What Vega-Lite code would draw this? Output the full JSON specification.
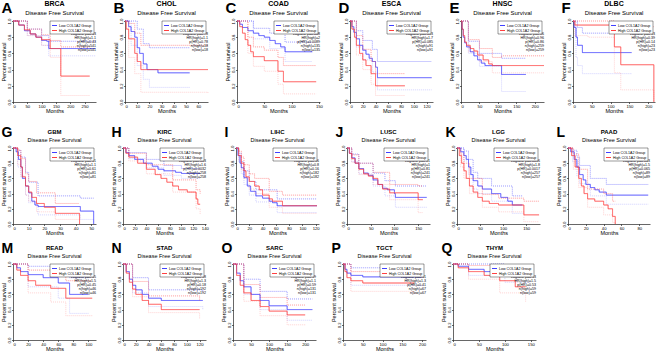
{
"$schema":"https://vega.github.io/schema/vega-lite/v6.json",
"padding":{"left":1,"top":0,"right":0,"bottom":0},
"background":"white",
"config":{
 "view":{"stroke":null},
 "font":"Liberation Sans",
 "title":{"font":"Liberation Sans","fontSize":7,"fontWeight":"bold","color":"black","subtitleFont":"Liberation Sans","subtitleFontSize":6,"subtitleColor":"black","subtitlePadding":0,"offset":2,"anchor":"middle"},
 "axis":{"labelFont":"Liberation Sans","titleFont":"Liberation Sans","labelFontSize":4.2,"titleFontSize":5.5,"titleFontWeight":"normal","tickSize":1.5,"labelPadding":0.5,"titlePadding":0.5,"grid":false,"domainColor":"#000","tickColor":"#000","labelColor":"#000","titleColor":"#000","domainWidth":0.6,"tickWidth":0.6,"labelOverlap":false},
 "axisY":{"labelAngle":270,"labelAlign":"center","labelBaseline":"bottom"},
 "legend":{"padding":1.5,"strokeColor":"black","strokeWidth":0.4,"fillColor":"white","labelFontSize":3.6,"labelFont":"Liberation Sans","labelColor":"black","symbolType":"stroke","symbolSize":25,"symbolStrokeWidth":1,"rowPadding":0,"labelOffset":1.5,"labelLimit":0},
 "line":{"interpolate":"step-after"},
 "text":{"color":"black","font":"Liberation Sans"}
},
"datasets":{
"info":[
{"p":"A","txt":"Logrank p=0.43\nHR(high)=1.1\np(HR)=0.43\nn(high)=541\nn(low)=541"},
{"p":"B","txt":"Logrank p=0.78\nHR(high)=1.1\np(HR)=0.78\nn(high)=18\nn(low)=18"},
{"p":"C","txt":"Logrank p=0.008\nHR(high)=2\np(HR)=0.0089\nn(high)=135\nn(low)=135"},
{"p":"D","txt":"Logrank p=0.083\nHR(high)=1.7\np(HR)=0.085\nn(high)=91\nn(low)=91"},
{"p":"E","txt":"Logrank p=0.86\nHR(high)=0.96\np(HR)=0.86\nn(high)=259\nn(low)=259"},
{"p":"F","txt":"Logrank p=0.13\nHR(high)=0.39\np(HR)=0.14\nn(high)=23\nn(low)=23"},
{"p":"G","txt":"Logrank p=0.61\nHR(high)=1.1\np(HR)=0.61\nn(high)=81\nn(low)=81"},
{"p":"H","txt":"Logrank p=0.003\nHR(high)=1.6\np(HR)=0.0032\nn(high)=258\nn(low)=258"},
{"p":"I","txt":"Logrank p=0.16\nHR(high)=0.8\np(HR)=0.16\nn(high)=182\nn(low)=182"},
{"p":"J","txt":"Logrank p=0.81\nHR(high)=1\np(HR)=0.81\nn(high)=241\nn(low)=241"},
{"p":"K","txt":"Logrank p=0.0016\nHR(high)=1.8\np(HR)=0.0017\nn(high)=257\nn(low)=257"},
{"p":"L","txt":"Logrank p=0.063\nHR(high)=1.5\np(HR)=0.065\nn(high)=89\nn(low)=89"},
{"p":"M","txt":"Logrank p=0.45\nHR(high)=1.5\np(HR)=0.45\nn(high)=46\nn(low)=46"},
{"p":"N","txt":"Logrank p=0.18\nHR(high)=1.3\np(HR)=0.18\nn(high)=192\nn(low)=192"},
{"p":"O","txt":"Logrank p=0.59\nHR(high)=1.1\np(HR)=0.59\nn(high)=131\nn(low)=131"},
{"p":"P","txt":"Logrank p=0.41\nHR(high)=1.3\np(HR)=0.41\nn(high)=67\nn(low)=67"},
{"p":"Q","txt":"Logrank p=0.53\nHR(high)=1.5\np(HR)=0.53\nn(high)=59\nn(low)=59"}
],
"km":[
{"p":"A","g":"L","k":"e","t":0,"s":1},{"p":"A","g":"L","k":"e","t":20,"s":0.95},{"p":"A","g":"L","k":"e","t":40,"s":0.88},{"p":"A","g":"L","k":"e","t":60,"s":0.84},{"p":"A","g":"L","k":"e","t":80,"s":0.8},{"p":"A","g":"L","k":"e","t":100,"s":0.76},{"p":"A","g":"L","k":"e","t":118,"s":0.75},{"p":"A","g":"L","k":"e","t":125,"s":0.66},{"p":"A","g":"L","k":"e","t":288,"s":0.66},
{"p":"A","g":"L","k":"u","t":0,"s":1},{"p":"A","g":"L","k":"u","t":50,"s":0.9},{"p":"A","g":"L","k":"u","t":100,"s":0.82},{"p":"A","g":"L","k":"u","t":125,"s":0.75},{"p":"A","g":"L","k":"u","t":288,"s":0.75},
{"p":"A","g":"L","k":"l","t":0,"s":1},{"p":"A","g":"L","k":"l","t":50,"s":0.82},{"p":"A","g":"L","k":"l","t":100,"s":0.7},{"p":"A","g":"L","k":"l","t":125,"s":0.57},{"p":"A","g":"L","k":"l","t":288,"s":0.57},
{"p":"A","g":"H","k":"e","t":0,"s":1},{"p":"A","g":"H","k":"e","t":20,"s":0.95},{"p":"A","g":"H","k":"e","t":40,"s":0.89},{"p":"A","g":"H","k":"e","t":60,"s":0.84},{"p":"A","g":"H","k":"e","t":80,"s":0.8},{"p":"A","g":"H","k":"e","t":100,"s":0.77},{"p":"A","g":"H","k":"e","t":130,"s":0.66},{"p":"A","g":"H","k":"e","t":167,"s":0.32},{"p":"A","g":"H","k":"e","t":268,"s":0.32},
{"p":"A","g":"H","k":"u","t":0,"s":1},{"p":"A","g":"H","k":"u","t":50,"s":0.9},{"p":"A","g":"H","k":"u","t":100,"s":0.83},{"p":"A","g":"H","k":"u","t":130,"s":0.76},{"p":"A","g":"H","k":"u","t":167,"s":0.68},{"p":"A","g":"H","k":"u","t":268,"s":0.68},
{"p":"A","g":"H","k":"l","t":0,"s":1},{"p":"A","g":"H","k":"l","t":50,"s":0.82},{"p":"A","g":"H","k":"l","t":100,"s":0.7},{"p":"A","g":"H","k":"l","t":130,"s":0.55},{"p":"A","g":"H","k":"l","t":167,"s":0.08},{"p":"A","g":"H","k":"l","t":268,"s":0.08},

{"p":"B","g":"L","k":"e","t":0,"s":1},{"p":"B","g":"L","k":"e","t":3,"s":0.93},{"p":"B","g":"L","k":"e","t":5,"s":0.87},{"p":"B","g":"L","k":"e","t":8,"s":0.8},{"p":"B","g":"L","k":"e","t":10,"s":0.67},{"p":"B","g":"L","k":"e","t":12,"s":0.6},{"p":"B","g":"L","k":"e","t":15,"s":0.47},{"p":"B","g":"L","k":"e","t":18,"s":0.4},{"p":"B","g":"L","k":"e","t":27,"s":0.36},{"p":"B","g":"L","k":"e","t":53,"s":0.36},
{"p":"B","g":"L","k":"u","t":0,"s":1},{"p":"B","g":"L","k":"u","t":5,"s":1},{"p":"B","g":"L","k":"u","t":10,"s":0.9},{"p":"B","g":"L","k":"u","t":15,"s":0.72},{"p":"B","g":"L","k":"u","t":20,"s":0.67},{"p":"B","g":"L","k":"u","t":53,"s":0.67},
{"p":"B","g":"L","k":"l","t":0,"s":1},{"p":"B","g":"L","k":"l","t":5,"s":0.7},{"p":"B","g":"L","k":"l","t":10,"s":0.45},{"p":"B","g":"L","k":"l","t":15,"s":0.28},{"p":"B","g":"L","k":"l","t":20,"s":0.18},{"p":"B","g":"L","k":"l","t":53,"s":0.18},
{"p":"B","g":"H","k":"e","t":0,"s":1},{"p":"B","g":"H","k":"e","t":1,"s":0.9},{"p":"B","g":"H","k":"e","t":3,"s":0.78},{"p":"B","g":"H","k":"e","t":8,"s":0.6},{"p":"B","g":"H","k":"e","t":10,"s":0.5},{"p":"B","g":"H","k":"e","t":13,"s":0.4},{"p":"B","g":"H","k":"e","t":68,"s":0.4},
{"p":"B","g":"H","k":"u","t":0,"s":1},{"p":"B","g":"H","k":"u","t":3,"s":0.97},{"p":"B","g":"H","k":"u","t":8,"s":0.85},{"p":"B","g":"H","k":"u","t":13,"s":0.7},{"p":"B","g":"H","k":"u","t":68,"s":0.7},
{"p":"B","g":"H","k":"l","t":0,"s":1},{"p":"B","g":"H","k":"l","t":3,"s":0.55},{"p":"B","g":"H","k":"l","t":8,"s":0.35},{"p":"B","g":"H","k":"l","t":13,"s":0.12},{"p":"B","g":"H","k":"l","t":68,"s":0.1},

{"p":"C","g":"L","k":"e","t":0,"s":1},{"p":"C","g":"L","k":"e","t":5,"s":0.96},{"p":"C","g":"L","k":"e","t":10,"s":0.92},{"p":"C","g":"L","k":"e","t":20,"s":0.88},{"p":"C","g":"L","k":"e","t":30,"s":0.85},{"p":"C","g":"L","k":"e","t":40,"s":0.82},{"p":"C","g":"L","k":"e","t":50,"s":0.8},{"p":"C","g":"L","k":"e","t":60,"s":0.76},{"p":"C","g":"L","k":"e","t":70,"s":0.72},{"p":"C","g":"L","k":"e","t":80,"s":0.68},{"p":"C","g":"L","k":"e","t":88,"s":0.62},{"p":"C","g":"L","k":"e","t":138,"s":0.62},
{"p":"C","g":"L","k":"u","t":0,"s":1},{"p":"C","g":"L","k":"u","t":30,"s":0.91},{"p":"C","g":"L","k":"u","t":60,"s":0.85},{"p":"C","g":"L","k":"u","t":88,"s":0.74},{"p":"C","g":"L","k":"u","t":138,"s":0.74},
{"p":"C","g":"L","k":"l","t":0,"s":1},{"p":"C","g":"L","k":"l","t":30,"s":0.78},{"p":"C","g":"L","k":"l","t":60,"s":0.66},{"p":"C","g":"L","k":"l","t":88,"s":0.5},{"p":"C","g":"L","k":"l","t":138,"s":0.5},
{"p":"C","g":"H","k":"e","t":0,"s":1},{"p":"C","g":"H","k":"e","t":5,"s":0.93},{"p":"C","g":"H","k":"e","t":10,"s":0.85},{"p":"C","g":"H","k":"e","t":15,"s":0.77},{"p":"C","g":"H","k":"e","t":20,"s":0.7},{"p":"C","g":"H","k":"e","t":25,"s":0.62},{"p":"C","g":"H","k":"e","t":30,"s":0.56},{"p":"C","g":"H","k":"e","t":50,"s":0.51},{"p":"C","g":"H","k":"e","t":75,"s":0.38},{"p":"C","g":"H","k":"e","t":85,"s":0.25},{"p":"C","g":"H","k":"e","t":145,"s":0.25},
{"p":"C","g":"H","k":"u","t":0,"s":1},{"p":"C","g":"H","k":"u","t":20,"s":0.8},{"p":"C","g":"H","k":"u","t":30,"s":0.68},{"p":"C","g":"H","k":"u","t":50,"s":0.64},{"p":"C","g":"H","k":"u","t":75,"s":0.55},{"p":"C","g":"H","k":"u","t":85,"s":0.45},{"p":"C","g":"H","k":"u","t":145,"s":0.45},
{"p":"C","g":"H","k":"l","t":0,"s":1},{"p":"C","g":"H","k":"l","t":20,"s":0.6},{"p":"C","g":"H","k":"l","t":30,"s":0.44},{"p":"C","g":"H","k":"l","t":50,"s":0.38},{"p":"C","g":"H","k":"l","t":75,"s":0.22},{"p":"C","g":"H","k":"l","t":85,"s":0.1},{"p":"C","g":"H","k":"l","t":145,"s":0.1},

{"p":"D","g":"L","k":"e","t":0,"s":1},{"p":"D","g":"L","k":"e","t":3,"s":0.93},{"p":"D","g":"L","k":"e","t":6,"s":0.86},{"p":"D","g":"L","k":"e","t":10,"s":0.78},{"p":"D","g":"L","k":"e","t":15,"s":0.7},{"p":"D","g":"L","k":"e","t":20,"s":0.64},{"p":"D","g":"L","k":"e","t":25,"s":0.59},{"p":"D","g":"L","k":"e","t":30,"s":0.54},{"p":"D","g":"L","k":"e","t":35,"s":0.5},{"p":"D","g":"L","k":"e","t":40,"s":0.43},{"p":"D","g":"L","k":"e","t":43,"s":0.3},{"p":"D","g":"L","k":"e","t":128,"s":0.3},
{"p":"D","g":"L","k":"u","t":0,"s":1},{"p":"D","g":"L","k":"u","t":10,"s":0.88},{"p":"D","g":"L","k":"u","t":20,"s":0.76},{"p":"D","g":"L","k":"u","t":35,"s":0.65},{"p":"D","g":"L","k":"u","t":43,"s":0.5},{"p":"D","g":"L","k":"u","t":128,"s":0.5},
{"p":"D","g":"L","k":"l","t":0,"s":1},{"p":"D","g":"L","k":"l","t":10,"s":0.68},{"p":"D","g":"L","k":"l","t":20,"s":0.52},{"p":"D","g":"L","k":"l","t":35,"s":0.37},{"p":"D","g":"L","k":"l","t":43,"s":0.15},{"p":"D","g":"L","k":"l","t":128,"s":0.15},
{"p":"D","g":"H","k":"e","t":0,"s":1},{"p":"D","g":"H","k":"e","t":3,"s":0.9},{"p":"D","g":"H","k":"e","t":7,"s":0.8},{"p":"D","g":"H","k":"e","t":10,"s":0.7},{"p":"D","g":"H","k":"e","t":15,"s":0.6},{"p":"D","g":"H","k":"e","t":20,"s":0.52},{"p":"D","g":"H","k":"e","t":25,"s":0.45},{"p":"D","g":"H","k":"e","t":33,"s":0.35},{"p":"D","g":"H","k":"e","t":40,"s":0.2},{"p":"D","g":"H","k":"e","t":86,"s":0.2},
{"p":"D","g":"H","k":"u","t":0,"s":1},{"p":"D","g":"H","k":"u","t":10,"s":0.82},{"p":"D","g":"H","k":"u","t":20,"s":0.65},{"p":"D","g":"H","k":"u","t":33,"s":0.5},{"p":"D","g":"H","k":"u","t":40,"s":0.35},{"p":"D","g":"H","k":"u","t":86,"s":0.35},
{"p":"D","g":"H","k":"l","t":0,"s":1},{"p":"D","g":"H","k":"l","t":10,"s":0.58},{"p":"D","g":"H","k":"l","t":20,"s":0.4},{"p":"D","g":"H","k":"l","t":33,"s":0.22},{"p":"D","g":"H","k":"l","t":40,"s":0.08},{"p":"D","g":"H","k":"l","t":86,"s":0.08},

{"p":"E","g":"L","k":"e","t":0,"s":1},{"p":"E","g":"L","k":"e","t":3,"s":0.9},{"p":"E","g":"L","k":"e","t":6,"s":0.8},{"p":"E","g":"L","k":"e","t":10,"s":0.73},{"p":"E","g":"L","k":"e","t":15,"s":0.68},{"p":"E","g":"L","k":"e","t":25,"s":0.62},{"p":"E","g":"L","k":"e","t":35,"s":0.57},{"p":"E","g":"L","k":"e","t":45,"s":0.52},{"p":"E","g":"L","k":"e","t":55,"s":0.48},{"p":"E","g":"L","k":"e","t":65,"s":0.45},{"p":"E","g":"L","k":"e","t":110,"s":0.34},{"p":"E","g":"L","k":"e","t":176,"s":0.34},
{"p":"E","g":"L","k":"u","t":0,"s":1},{"p":"E","g":"L","k":"u","t":20,"s":0.75},{"p":"E","g":"L","k":"u","t":50,"s":0.6},{"p":"E","g":"L","k":"u","t":110,"s":0.54},{"p":"E","g":"L","k":"u","t":176,"s":0.54},
{"p":"E","g":"L","k":"l","t":0,"s":1},{"p":"E","g":"L","k":"l","t":20,"s":0.6},{"p":"E","g":"L","k":"l","t":50,"s":0.44},{"p":"E","g":"L","k":"l","t":110,"s":0.13},{"p":"E","g":"L","k":"l","t":176,"s":0.13},
{"p":"E","g":"H","k":"e","t":0,"s":1},{"p":"E","g":"H","k":"e","t":3,"s":0.9},{"p":"E","g":"H","k":"e","t":6,"s":0.82},{"p":"E","g":"H","k":"e","t":10,"s":0.74},{"p":"E","g":"H","k":"e","t":15,"s":0.7},{"p":"E","g":"H","k":"e","t":25,"s":0.66},{"p":"E","g":"H","k":"e","t":35,"s":0.63},{"p":"E","g":"H","k":"e","t":45,"s":0.58},{"p":"E","g":"H","k":"e","t":60,"s":0.52},{"p":"E","g":"H","k":"e","t":75,"s":0.47},{"p":"E","g":"H","k":"e","t":85,"s":0.45},{"p":"E","g":"H","k":"e","t":225,"s":0.45},
{"p":"E","g":"H","k":"u","t":0,"s":1},{"p":"E","g":"H","k":"u","t":20,"s":0.77},{"p":"E","g":"H","k":"u","t":50,"s":0.66},{"p":"E","g":"H","k":"u","t":85,"s":0.55},{"p":"E","g":"H","k":"u","t":110,"s":0.57},{"p":"E","g":"H","k":"u","t":225,"s":0.57},
{"p":"E","g":"H","k":"l","t":0,"s":1},{"p":"E","g":"H","k":"l","t":20,"s":0.62},{"p":"E","g":"H","k":"l","t":50,"s":0.5},{"p":"E","g":"H","k":"l","t":85,"s":0.36},{"p":"E","g":"H","k":"l","t":225,"s":0.36},

{"p":"F","g":"L","k":"e","t":0,"s":1},{"p":"F","g":"L","k":"e","t":3,"s":0.92},{"p":"F","g":"L","k":"e","t":8,"s":0.8},{"p":"F","g":"L","k":"e","t":12,"s":0.7},{"p":"F","g":"L","k":"e","t":25,"s":0.61},{"p":"F","g":"L","k":"e","t":156,"s":0.61},
{"p":"F","g":"L","k":"u","t":0,"s":1},{"p":"F","g":"L","k":"u","t":12,"s":0.92},{"p":"F","g":"L","k":"u","t":25,"s":0.85},{"p":"F","g":"L","k":"u","t":156,"s":0.85},
{"p":"F","g":"L","k":"l","t":0,"s":1},{"p":"F","g":"L","k":"l","t":8,"s":0.55},{"p":"F","g":"L","k":"l","t":12,"s":0.45},{"p":"F","g":"L","k":"l","t":25,"s":0.35},{"p":"F","g":"L","k":"l","t":156,"s":0.35},
{"p":"F","g":"H","k":"e","t":0,"s":1},{"p":"F","g":"H","k":"e","t":5,"s":0.95},{"p":"F","g":"H","k":"e","t":110,"s":0.68},{"p":"F","g":"H","k":"e","t":127,"s":0.46},{"p":"F","g":"H","k":"e","t":215,"s":0},
{"p":"F","g":"H","k":"u","t":0,"s":1},{"p":"F","g":"H","k":"u","t":110,"s":0.97},{"p":"F","g":"H","k":"u","t":127,"s":0.93},{"p":"F","g":"H","k":"u","t":215,"s":0.93},
{"p":"F","g":"H","k":"l","t":0,"s":1},{"p":"F","g":"H","k":"l","t":5,"s":0.82},{"p":"F","g":"H","k":"l","t":40,"s":0.8},{"p":"F","g":"H","k":"l","t":110,"s":0.36},{"p":"F","g":"H","k":"l","t":127,"s":0.15},{"p":"F","g":"H","k":"l","t":215,"s":0},

{"p":"G","g":"L","k":"e","t":0,"s":1},{"p":"G","g":"L","k":"e","t":2,"s":0.95},{"p":"G","g":"L","k":"e","t":3.5,"s":0.85},{"p":"G","g":"L","k":"e","t":5,"s":0.75},{"p":"G","g":"L","k":"e","t":6,"s":0.6},{"p":"G","g":"L","k":"e","t":8,"s":0.5},{"p":"G","g":"L","k":"e","t":10,"s":0.41},{"p":"G","g":"L","k":"e","t":12,"s":0.3},{"p":"G","g":"L","k":"e","t":14,"s":0.25},{"p":"G","g":"L","k":"e","t":16,"s":0.23},{"p":"G","g":"L","k":"e","t":43,"s":0.17},{"p":"G","g":"L","k":"e","t":51.5,"s":0},
{"p":"G","g":"L","k":"u","t":0,"s":1},{"p":"G","g":"L","k":"u","t":3,"s":0.97},{"p":"G","g":"L","k":"u","t":5,"s":0.88},{"p":"G","g":"L","k":"u","t":8,"s":0.68},{"p":"G","g":"L","k":"u","t":10,"s":0.55},{"p":"G","g":"L","k":"u","t":16,"s":0.37},{"p":"G","g":"L","k":"u","t":43,"s":0.34},{"p":"G","g":"L","k":"u","t":51.5,"s":0.34},
{"p":"G","g":"L","k":"l","t":0,"s":1},{"p":"G","g":"L","k":"l","t":3,"s":0.75},{"p":"G","g":"L","k":"l","t":5,"s":0.62},{"p":"G","g":"L","k":"l","t":8,"s":0.38},{"p":"G","g":"L","k":"l","t":10,"s":0.28},{"p":"G","g":"L","k":"l","t":16,"s":0.12},{"p":"G","g":"L","k":"l","t":43,"s":0.06},{"p":"G","g":"L","k":"l","t":51.5,"s":0.0},
{"p":"G","g":"H","k":"e","t":0,"s":1},{"p":"G","g":"H","k":"e","t":3,"s":0.9},{"p":"G","g":"H","k":"e","t":5,"s":0.75},{"p":"G","g":"H","k":"e","t":6,"s":0.62},{"p":"G","g":"H","k":"e","t":8,"s":0.5},{"p":"G","g":"H","k":"e","t":10,"s":0.42},{"p":"G","g":"H","k":"e","t":12,"s":0.35},{"p":"G","g":"H","k":"e","t":15,"s":0.27},{"p":"G","g":"H","k":"e","t":20,"s":0.22},{"p":"G","g":"H","k":"e","t":27,"s":0.14},{"p":"G","g":"H","k":"e","t":42.5,"s":0},
{"p":"G","g":"H","k":"u","t":0,"s":1},{"p":"G","g":"H","k":"u","t":3,"s":0.97},{"p":"G","g":"H","k":"u","t":5,"s":0.86},{"p":"G","g":"H","k":"u","t":8,"s":0.66},{"p":"G","g":"H","k":"u","t":10,"s":0.56},{"p":"G","g":"H","k":"u","t":15,"s":0.41},{"p":"G","g":"H","k":"u","t":27,"s":0.27},{"p":"G","g":"H","k":"u","t":42.5,"s":0.27},
{"p":"G","g":"H","k":"l","t":0,"s":1},{"p":"G","g":"H","k":"l","t":3,"s":0.78},{"p":"G","g":"H","k":"l","t":5,"s":0.63},{"p":"G","g":"H","k":"l","t":8,"s":0.38},{"p":"G","g":"H","k":"l","t":10,"s":0.3},{"p":"G","g":"H","k":"l","t":15,"s":0.16},{"p":"G","g":"H","k":"l","t":27,"s":0.06},{"p":"G","g":"H","k":"l","t":42.5,"s":0.0},

{"p":"H","g":"L","k":"e","t":0,"s":1},{"p":"H","g":"L","k":"e","t":5,"s":0.94},{"p":"H","g":"L","k":"e","t":10,"s":0.9},{"p":"H","g":"L","k":"e","t":20,"s":0.85},{"p":"H","g":"L","k":"e","t":35,"s":0.8},{"p":"H","g":"L","k":"e","t":50,"s":0.76},{"p":"H","g":"L","k":"e","t":60,"s":0.72},{"p":"H","g":"L","k":"e","t":70,"s":0.7},{"p":"H","g":"L","k":"e","t":90,"s":0.68},{"p":"H","g":"L","k":"e","t":100,"s":0.665},{"p":"H","g":"L","k":"e","t":132,"s":0.665},
{"p":"H","g":"L","k":"u","t":0,"s":1},{"p":"H","g":"L","k":"u","t":10,"s":0.94},{"p":"H","g":"L","k":"u","t":40,"s":0.85},{"p":"H","g":"L","k":"u","t":70,"s":0.77},{"p":"H","g":"L","k":"u","t":100,"s":0.73},{"p":"H","g":"L","k":"u","t":132,"s":0.73},
{"p":"H","g":"L","k":"l","t":0,"s":1},{"p":"H","g":"L","k":"l","t":10,"s":0.86},{"p":"H","g":"L","k":"l","t":40,"s":0.74},{"p":"H","g":"L","k":"l","t":70,"s":0.64},{"p":"H","g":"L","k":"l","t":100,"s":0.6},{"p":"H","g":"L","k":"l","t":132,"s":0.6},
{"p":"H","g":"H","k":"e","t":0,"s":1},{"p":"H","g":"H","k":"e","t":5,"s":0.93},{"p":"H","g":"H","k":"e","t":10,"s":0.88},{"p":"H","g":"H","k":"e","t":25,"s":0.8},{"p":"H","g":"H","k":"e","t":40,"s":0.72},{"p":"H","g":"H","k":"e","t":55,"s":0.65},{"p":"H","g":"H","k":"e","t":65,"s":0.6},{"p":"H","g":"H","k":"e","t":75,"s":0.55},{"p":"H","g":"H","k":"e","t":85,"s":0.5},{"p":"H","g":"H","k":"e","t":95,"s":0.45},{"p":"H","g":"H","k":"e","t":110,"s":0.42},{"p":"H","g":"H","k":"e","t":125,"s":0.33},{"p":"H","g":"H","k":"e","t":128,"s":0.26},{"p":"H","g":"H","k":"e","t":132,"s":0.26},
{"p":"H","g":"H","k":"u","t":0,"s":1},{"p":"H","g":"H","k":"u","t":10,"s":0.93},{"p":"H","g":"H","k":"u","t":40,"s":0.78},{"p":"H","g":"H","k":"u","t":85,"s":0.58},{"p":"H","g":"H","k":"u","t":125,"s":0.45},{"p":"H","g":"H","k":"u","t":132,"s":0.4},
{"p":"H","g":"H","k":"l","t":0,"s":1},{"p":"H","g":"H","k":"l","t":10,"s":0.83},{"p":"H","g":"H","k":"l","t":40,"s":0.66},{"p":"H","g":"H","k":"l","t":85,"s":0.42},{"p":"H","g":"H","k":"l","t":125,"s":0.2},{"p":"H","g":"H","k":"l","t":132,"s":0.12},

{"p":"I","g":"L","k":"e","t":0,"s":1},{"p":"I","g":"L","k":"e","t":3,"s":0.9},{"p":"I","g":"L","k":"e","t":6,"s":0.8},{"p":"I","g":"L","k":"e","t":8,"s":0.74},{"p":"I","g":"L","k":"e","t":12,"s":0.61},{"p":"I","g":"L","k":"e","t":17,"s":0.5},{"p":"I","g":"L","k":"e","t":22,"s":0.43},{"p":"I","g":"L","k":"e","t":30,"s":0.37},{"p":"I","g":"L","k":"e","t":40,"s":0.34},{"p":"I","g":"L","k":"e","t":50,"s":0.3},{"p":"I","g":"L","k":"e","t":55,"s":0.28},{"p":"I","g":"L","k":"e","t":62,"s":0.24},{"p":"I","g":"L","k":"e","t":122,"s":0.24},
{"p":"I","g":"L","k":"u","t":0,"s":1},{"p":"I","g":"L","k":"u","t":4,"s":0.93},{"p":"I","g":"L","k":"u","t":8,"s":0.82},{"p":"I","g":"L","k":"u","t":12,"s":0.7},{"p":"I","g":"L","k":"u","t":20,"s":0.56},{"p":"I","g":"L","k":"u","t":30,"s":0.45},{"p":"I","g":"L","k":"u","t":62,"s":0.33},{"p":"I","g":"L","k":"u","t":122,"s":0.33},
{"p":"I","g":"L","k":"l","t":0,"s":1},{"p":"I","g":"L","k":"l","t":4,"s":0.82},{"p":"I","g":"L","k":"l","t":8,"s":0.66},{"p":"I","g":"L","k":"l","t":12,"s":0.52},{"p":"I","g":"L","k":"l","t":20,"s":0.38},{"p":"I","g":"L","k":"l","t":30,"s":0.29},{"p":"I","g":"L","k":"l","t":62,"s":0.15},{"p":"I","g":"L","k":"l","t":122,"s":0.15},
{"p":"I","g":"H","k":"e","t":0,"s":1},{"p":"I","g":"H","k":"e","t":4,"s":0.9},{"p":"I","g":"H","k":"e","t":8,"s":0.8},{"p":"I","g":"H","k":"e","t":12,"s":0.7},{"p":"I","g":"H","k":"e","t":15,"s":0.62},{"p":"I","g":"H","k":"e","t":20,"s":0.56},{"p":"I","g":"H","k":"e","t":28,"s":0.5},{"p":"I","g":"H","k":"e","t":35,"s":0.45},{"p":"I","g":"H","k":"e","t":40,"s":0.38},{"p":"I","g":"H","k":"e","t":50,"s":0.33},{"p":"I","g":"H","k":"e","t":55,"s":0.3},{"p":"I","g":"H","k":"e","t":70,"s":0.24},{"p":"I","g":"H","k":"e","t":122,"s":0.24},
{"p":"I","g":"H","k":"u","t":0,"s":1},{"p":"I","g":"H","k":"u","t":4,"s":0.96},{"p":"I","g":"H","k":"u","t":8,"s":0.88},{"p":"I","g":"H","k":"u","t":12,"s":0.78},{"p":"I","g":"H","k":"u","t":20,"s":0.66},{"p":"I","g":"H","k":"u","t":28,"s":0.6},{"p":"I","g":"H","k":"u","t":50,"s":0.43},{"p":"I","g":"H","k":"u","t":70,"s":0.38},{"p":"I","g":"H","k":"u","t":122,"s":0.38},
{"p":"I","g":"H","k":"l","t":0,"s":1},{"p":"I","g":"H","k":"l","t":4,"s":0.84},{"p":"I","g":"H","k":"l","t":8,"s":0.71},{"p":"I","g":"H","k":"l","t":12,"s":0.6},{"p":"I","g":"H","k":"l","t":20,"s":0.46},{"p":"I","g":"H","k":"l","t":28,"s":0.4},{"p":"I","g":"H","k":"l","t":50,"s":0.22},{"p":"I","g":"H","k":"l","t":70,"s":0.14},{"p":"I","g":"H","k":"l","t":122,"s":0.14},

{"p":"J","g":"L","k":"e","t":0,"s":1},{"p":"J","g":"L","k":"e","t":5,"s":0.93},{"p":"J","g":"L","k":"e","t":10,"s":0.87},{"p":"J","g":"L","k":"e","t":17,"s":0.8},{"p":"J","g":"L","k":"e","t":25,"s":0.73},{"p":"J","g":"L","k":"e","t":35,"s":0.67},{"p":"J","g":"L","k":"e","t":45,"s":0.64},{"p":"J","g":"L","k":"e","t":55,"s":0.58},{"p":"J","g":"L","k":"e","t":65,"s":0.52},{"p":"J","g":"L","k":"e","t":75,"s":0.47},{"p":"J","g":"L","k":"e","t":85,"s":0.45},{"p":"J","g":"L","k":"e","t":100,"s":0.4},{"p":"J","g":"L","k":"e","t":102,"s":0.35},{"p":"J","g":"L","k":"e","t":168,"s":0.35},
{"p":"J","g":"L","k":"u","t":0,"s":1},{"p":"J","g":"L","k":"u","t":10,"s":0.92},{"p":"J","g":"L","k":"u","t":25,"s":0.8},{"p":"J","g":"L","k":"u","t":55,"s":0.67},{"p":"J","g":"L","k":"u","t":80,"s":0.57},{"p":"J","g":"L","k":"u","t":102,"s":0.5},{"p":"J","g":"L","k":"u","t":168,"s":0.5},
{"p":"J","g":"L","k":"l","t":0,"s":1},{"p":"J","g":"L","k":"l","t":10,"s":0.82},{"p":"J","g":"L","k":"l","t":25,"s":0.66},{"p":"J","g":"L","k":"l","t":55,"s":0.5},{"p":"J","g":"L","k":"l","t":80,"s":0.37},{"p":"J","g":"L","k":"l","t":102,"s":0.22},{"p":"J","g":"L","k":"l","t":168,"s":0.22},
{"p":"J","g":"H","k":"e","t":0,"s":1},{"p":"J","g":"H","k":"e","t":5,"s":0.93},{"p":"J","g":"H","k":"e","t":10,"s":0.86},{"p":"J","g":"H","k":"e","t":17,"s":0.8},{"p":"J","g":"H","k":"e","t":25,"s":0.72},{"p":"J","g":"H","k":"e","t":35,"s":0.66},{"p":"J","g":"H","k":"e","t":45,"s":0.63},{"p":"J","g":"H","k":"e","t":55,"s":0.6},{"p":"J","g":"H","k":"e","t":65,"s":0.52},{"p":"J","g":"H","k":"e","t":75,"s":0.46},{"p":"J","g":"H","k":"e","t":90,"s":0.41},{"p":"J","g":"H","k":"e","t":150,"s":0.32},{"p":"J","g":"H","k":"e","t":160,"s":0.32},
{"p":"J","g":"H","k":"u","t":0,"s":1},{"p":"J","g":"H","k":"u","t":10,"s":0.91},{"p":"J","g":"H","k":"u","t":25,"s":0.8},{"p":"J","g":"H","k":"u","t":55,"s":0.68},{"p":"J","g":"H","k":"u","t":90,"s":0.52},{"p":"J","g":"H","k":"u","t":150,"s":0.5},{"p":"J","g":"H","k":"u","t":160,"s":0.5},
{"p":"J","g":"H","k":"l","t":0,"s":1},{"p":"J","g":"H","k":"l","t":10,"s":0.81},{"p":"J","g":"H","k":"l","t":25,"s":0.65},{"p":"J","g":"H","k":"l","t":55,"s":0.52},{"p":"J","g":"H","k":"l","t":90,"s":0.32},{"p":"J","g":"H","k":"l","t":150,"s":0.15},{"p":"J","g":"H","k":"l","t":160,"s":0.15},

{"p":"K","g":"L","k":"e","t":0,"s":1},{"p":"K","g":"L","k":"e","t":8,"s":0.95},{"p":"K","g":"L","k":"e","t":15,"s":0.9},{"p":"K","g":"L","k":"e","t":20,"s":0.85},{"p":"K","g":"L","k":"e","t":25,"s":0.75},{"p":"K","g":"L","k":"e","t":30,"s":0.65},{"p":"K","g":"L","k":"e","t":35,"s":0.57},{"p":"K","g":"L","k":"e","t":45,"s":0.5},{"p":"K","g":"L","k":"e","t":55,"s":0.46},{"p":"K","g":"L","k":"e","t":75,"s":0.4},{"p":"K","g":"L","k":"e","t":95,"s":0.35},{"p":"K","g":"L","k":"e","t":110,"s":0.3},{"p":"K","g":"L","k":"e","t":120,"s":0.25},{"p":"K","g":"L","k":"e","t":142,"s":0.25},
{"p":"K","g":"L","k":"u","t":0,"s":1},{"p":"K","g":"L","k":"u","t":15,"s":0.96},{"p":"K","g":"L","k":"u","t":25,"s":0.85},{"p":"K","g":"L","k":"u","t":35,"s":0.68},{"p":"K","g":"L","k":"u","t":45,"s":0.6},{"p":"K","g":"L","k":"u","t":75,"s":0.5},{"p":"K","g":"L","k":"u","t":120,"s":0.37},{"p":"K","g":"L","k":"u","t":142,"s":0.37},
{"p":"K","g":"L","k":"l","t":0,"s":1},{"p":"K","g":"L","k":"l","t":15,"s":0.83},{"p":"K","g":"L","k":"l","t":25,"s":0.65},{"p":"K","g":"L","k":"l","t":35,"s":0.46},{"p":"K","g":"L","k":"l","t":45,"s":0.4},{"p":"K","g":"L","k":"l","t":75,"s":0.3},{"p":"K","g":"L","k":"l","t":120,"s":0.14},{"p":"K","g":"L","k":"l","t":142,"s":0.14},
{"p":"K","g":"H","k":"e","t":0,"s":1},{"p":"K","g":"H","k":"e","t":5,"s":0.9},{"p":"K","g":"H","k":"e","t":10,"s":0.8},{"p":"K","g":"H","k":"e","t":15,"s":0.7},{"p":"K","g":"H","k":"e","t":20,"s":0.6},{"p":"K","g":"H","k":"e","t":27,"s":0.5},{"p":"K","g":"H","k":"e","t":35,"s":0.42},{"p":"K","g":"H","k":"e","t":45,"s":0.35},{"p":"K","g":"H","k":"e","t":55,"s":0.3},{"p":"K","g":"H","k":"e","t":70,"s":0.27},{"p":"K","g":"H","k":"e","t":90,"s":0.25},{"p":"K","g":"H","k":"e","t":145,"s":0.12},{"p":"K","g":"H","k":"e","t":178,"s":0.12},
{"p":"K","g":"H","k":"u","t":0,"s":1},{"p":"K","g":"H","k":"u","t":8,"s":0.92},{"p":"K","g":"H","k":"u","t":15,"s":0.8},{"p":"K","g":"H","k":"u","t":27,"s":0.6},{"p":"K","g":"H","k":"u","t":55,"s":0.39},{"p":"K","g":"H","k":"u","t":90,"s":0.34},{"p":"K","g":"H","k":"u","t":145,"s":0.3},{"p":"K","g":"H","k":"u","t":178,"s":0.3},
{"p":"K","g":"H","k":"l","t":0,"s":1},{"p":"K","g":"H","k":"l","t":8,"s":0.75},{"p":"K","g":"H","k":"l","t":15,"s":0.6},{"p":"K","g":"H","k":"l","t":27,"s":0.4},{"p":"K","g":"H","k":"l","t":55,"s":0.22},{"p":"K","g":"H","k":"l","t":90,"s":0.16},{"p":"K","g":"H","k":"l","t":145,"s":0.03},{"p":"K","g":"H","k":"l","t":178,"s":0.03},

{"p":"L","g":"L","k":"e","t":0,"s":1},{"p":"L","g":"L","k":"e","t":3,"s":0.95},{"p":"L","g":"L","k":"e","t":7,"s":0.85},{"p":"L","g":"L","k":"e","t":10,"s":0.75},{"p":"L","g":"L","k":"e","t":13,"s":0.65},{"p":"L","g":"L","k":"e","t":17,"s":0.58},{"p":"L","g":"L","k":"e","t":20,"s":0.52},{"p":"L","g":"L","k":"e","t":25,"s":0.48},{"p":"L","g":"L","k":"e","t":30,"s":0.45},{"p":"L","g":"L","k":"e","t":35,"s":0.42},{"p":"L","g":"L","k":"e","t":43,"s":0.38},{"p":"L","g":"L","k":"e","t":90,"s":0.38},
{"p":"L","g":"L","k":"u","t":0,"s":1},{"p":"L","g":"L","k":"u","t":5,"s":0.97},{"p":"L","g":"L","k":"u","t":10,"s":0.88},{"p":"L","g":"L","k":"u","t":13,"s":0.77},{"p":"L","g":"L","k":"u","t":25,"s":0.6},{"p":"L","g":"L","k":"u","t":43,"s":0.52},{"p":"L","g":"L","k":"u","t":90,"s":0.52},
{"p":"L","g":"L","k":"l","t":0,"s":1},{"p":"L","g":"L","k":"l","t":5,"s":0.82},{"p":"L","g":"L","k":"l","t":10,"s":0.63},{"p":"L","g":"L","k":"l","t":13,"s":0.53},{"p":"L","g":"L","k":"l","t":25,"s":0.37},{"p":"L","g":"L","k":"l","t":43,"s":0.26},{"p":"L","g":"L","k":"l","t":90,"s":0.26},
{"p":"L","g":"H","k":"e","t":0,"s":1},{"p":"L","g":"H","k":"e","t":4,"s":0.9},{"p":"L","g":"H","k":"e","t":8,"s":0.75},{"p":"L","g":"H","k":"e","t":12,"s":0.6},{"p":"L","g":"H","k":"e","t":15,"s":0.5},{"p":"L","g":"H","k":"e","t":18,"s":0.4},{"p":"L","g":"H","k":"e","t":22,"s":0.33},{"p":"L","g":"H","k":"e","t":30,"s":0.3},{"p":"L","g":"H","k":"e","t":40,"s":0.25},{"p":"L","g":"H","k":"e","t":45,"s":0.2},{"p":"L","g":"H","k":"e","t":50,"s":0.1},{"p":"L","g":"H","k":"e","t":53,"s":0},
{"p":"L","g":"H","k":"u","t":0,"s":1},{"p":"L","g":"H","k":"u","t":6,"s":0.92},{"p":"L","g":"H","k":"u","t":12,"s":0.72},{"p":"L","g":"H","k":"u","t":22,"s":0.46},{"p":"L","g":"H","k":"u","t":40,"s":0.4},{"p":"L","g":"H","k":"u","t":50,"s":0.3},{"p":"L","g":"H","k":"u","t":53,"s":0.3},
{"p":"L","g":"H","k":"l","t":0,"s":1},{"p":"L","g":"H","k":"l","t":6,"s":0.72},{"p":"L","g":"H","k":"l","t":12,"s":0.48},{"p":"L","g":"H","k":"l","t":22,"s":0.22},{"p":"L","g":"H","k":"l","t":40,"s":0.12},{"p":"L","g":"H","k":"l","t":50,"s":0.02},{"p":"L","g":"H","k":"l","t":53,"s":0},

{"p":"M","g":"L","k":"e","t":0,"s":1},{"p":"M","g":"L","k":"e","t":5,"s":0.95},{"p":"M","g":"L","k":"e","t":10,"s":0.9},{"p":"M","g":"L","k":"e","t":20,"s":0.86},{"p":"M","g":"L","k":"e","t":40,"s":0.82},{"p":"M","g":"L","k":"e","t":60,"s":0.75},{"p":"M","g":"L","k":"e","t":75,"s":0.6},{"p":"M","g":"L","k":"e","t":100,"s":0.6},
{"p":"M","g":"L","k":"u","t":0,"s":1},{"p":"M","g":"L","k":"u","t":20,"s":0.97},{"p":"M","g":"L","k":"u","t":60,"s":0.92},{"p":"M","g":"L","k":"u","t":75,"s":0.82},{"p":"M","g":"L","k":"u","t":100,"s":0.82},
{"p":"M","g":"L","k":"l","t":0,"s":1},{"p":"M","g":"L","k":"l","t":20,"s":0.7},{"p":"M","g":"L","k":"l","t":60,"s":0.55},{"p":"M","g":"L","k":"l","t":75,"s":0.35},{"p":"M","g":"L","k":"l","t":100,"s":0.35},
{"p":"M","g":"H","k":"e","t":0,"s":1},{"p":"M","g":"H","k":"e","t":5,"s":0.92},{"p":"M","g":"H","k":"e","t":10,"s":0.85},{"p":"M","g":"H","k":"e","t":20,"s":0.78},{"p":"M","g":"H","k":"e","t":30,"s":0.72},{"p":"M","g":"H","k":"e","t":50,"s":0.68},{"p":"M","g":"H","k":"e","t":70,"s":0.55},{"p":"M","g":"H","k":"e","t":105,"s":0.55},
{"p":"M","g":"H","k":"u","t":0,"s":1},{"p":"M","g":"H","k":"u","t":20,"s":0.92},{"p":"M","g":"H","k":"u","t":50,"s":0.85},{"p":"M","g":"H","k":"u","t":70,"s":0.78},{"p":"M","g":"H","k":"u","t":105,"s":0.78},
{"p":"M","g":"H","k":"l","t":0,"s":1},{"p":"M","g":"H","k":"l","t":20,"s":0.62},{"p":"M","g":"H","k":"l","t":50,"s":0.5},{"p":"M","g":"H","k":"l","t":70,"s":0.32},{"p":"M","g":"H","k":"l","t":105,"s":0.32},

{"p":"N","g":"L","k":"e","t":0,"s":1},{"p":"N","g":"L","k":"e","t":5,"s":0.9},{"p":"N","g":"L","k":"e","t":10,"s":0.8},{"p":"N","g":"L","k":"e","t":15,"s":0.72},{"p":"N","g":"L","k":"e","t":20,"s":0.66},{"p":"N","g":"L","k":"e","t":30,"s":0.6},{"p":"N","g":"L","k":"e","t":40,"s":0.55},{"p":"N","g":"L","k":"e","t":60,"s":0.52},{"p":"N","g":"L","k":"e","t":125,"s":0.52},
{"p":"N","g":"L","k":"u","t":0,"s":1},{"p":"N","g":"L","k":"u","t":15,"s":0.82},{"p":"N","g":"L","k":"u","t":40,"s":0.66},{"p":"N","g":"L","k":"u","t":125,"s":0.64},
{"p":"N","g":"L","k":"l","t":0,"s":1},{"p":"N","g":"L","k":"l","t":15,"s":0.62},{"p":"N","g":"L","k":"l","t":40,"s":0.44},{"p":"N","g":"L","k":"l","t":125,"s":0.4},
{"p":"N","g":"H","k":"e","t":0,"s":1},{"p":"N","g":"H","k":"e","t":5,"s":0.88},{"p":"N","g":"H","k":"e","t":10,"s":0.76},{"p":"N","g":"H","k":"e","t":15,"s":0.67},{"p":"N","g":"H","k":"e","t":20,"s":0.6},{"p":"N","g":"H","k":"e","t":30,"s":0.52},{"p":"N","g":"H","k":"e","t":40,"s":0.47},{"p":"N","g":"H","k":"e","t":60,"s":0.4},{"p":"N","g":"H","k":"e","t":120,"s":0.4},
{"p":"N","g":"H","k":"u","t":0,"s":1},{"p":"N","g":"H","k":"u","t":15,"s":0.77},{"p":"N","g":"H","k":"u","t":40,"s":0.58},{"p":"N","g":"H","k":"u","t":120,"s":0.52},
{"p":"N","g":"H","k":"l","t":0,"s":1},{"p":"N","g":"H","k":"l","t":15,"s":0.57},{"p":"N","g":"H","k":"l","t":40,"s":0.36},{"p":"N","g":"H","k":"l","t":120,"s":0.28},

{"p":"O","g":"L","k":"e","t":0,"s":1},{"p":"O","g":"L","k":"e","t":10,"s":0.88},{"p":"O","g":"L","k":"e","t":20,"s":0.78},{"p":"O","g":"L","k":"e","t":30,"s":0.7},{"p":"O","g":"L","k":"e","t":50,"s":0.6},{"p":"O","g":"L","k":"e","t":75,"s":0.52},{"p":"O","g":"L","k":"e","t":100,"s":0.45},{"p":"O","g":"L","k":"e","t":150,"s":0.4},{"p":"O","g":"L","k":"e","t":220,"s":0.4},
{"p":"O","g":"L","k":"u","t":0,"s":1},{"p":"O","g":"L","k":"u","t":30,"s":0.8},{"p":"O","g":"L","k":"u","t":75,"s":0.64},{"p":"O","g":"L","k":"u","t":150,"s":0.54},{"p":"O","g":"L","k":"u","t":220,"s":0.54},
{"p":"O","g":"L","k":"l","t":0,"s":1},{"p":"O","g":"L","k":"l","t":30,"s":0.6},{"p":"O","g":"L","k":"l","t":75,"s":0.4},{"p":"O","g":"L","k":"l","t":150,"s":0.26},{"p":"O","g":"L","k":"l","t":220,"s":0.26},
{"p":"O","g":"H","k":"e","t":0,"s":1},{"p":"O","g":"H","k":"e","t":10,"s":0.85},{"p":"O","g":"H","k":"e","t":20,"s":0.72},{"p":"O","g":"H","k":"e","t":30,"s":0.62},{"p":"O","g":"H","k":"e","t":50,"s":0.52},{"p":"O","g":"H","k":"e","t":75,"s":0.44},{"p":"O","g":"H","k":"e","t":100,"s":0.38},{"p":"O","g":"H","k":"e","t":150,"s":0.33},{"p":"O","g":"H","k":"e","t":200,"s":0.33},
{"p":"O","g":"H","k":"u","t":0,"s":1},{"p":"O","g":"H","k":"u","t":30,"s":0.73},{"p":"O","g":"H","k":"u","t":75,"s":0.56},{"p":"O","g":"H","k":"u","t":150,"s":0.46},{"p":"O","g":"H","k":"u","t":200,"s":0.46},
{"p":"O","g":"H","k":"l","t":0,"s":1},{"p":"O","g":"H","k":"l","t":30,"s":0.51},{"p":"O","g":"H","k":"l","t":75,"s":0.32},{"p":"O","g":"H","k":"l","t":150,"s":0.2},{"p":"O","g":"H","k":"l","t":200,"s":0.2},

{"p":"P","g":"L","k":"e","t":0,"s":1},{"p":"P","g":"L","k":"e","t":5,"s":0.93},{"p":"P","g":"L","k":"e","t":10,"s":0.88},{"p":"P","g":"L","k":"e","t":20,"s":0.85},{"p":"P","g":"L","k":"e","t":50,"s":0.83},{"p":"P","g":"L","k":"e","t":200,"s":0.83},
{"p":"P","g":"L","k":"u","t":0,"s":1},{"p":"P","g":"L","k":"u","t":20,"s":0.95},{"p":"P","g":"L","k":"u","t":200,"s":0.94},
{"p":"P","g":"L","k":"l","t":0,"s":1},{"p":"P","g":"L","k":"l","t":20,"s":0.72},{"p":"P","g":"L","k":"l","t":200,"s":0.7},
{"p":"P","g":"H","k":"e","t":0,"s":1},{"p":"P","g":"H","k":"e","t":5,"s":0.9},{"p":"P","g":"H","k":"e","t":10,"s":0.82},{"p":"P","g":"H","k":"e","t":20,"s":0.78},{"p":"P","g":"H","k":"e","t":50,"s":0.75},{"p":"P","g":"H","k":"e","t":180,"s":0.75},
{"p":"P","g":"H","k":"u","t":0,"s":1},{"p":"P","g":"H","k":"u","t":20,"s":0.9},{"p":"P","g":"H","k":"u","t":180,"s":0.88},
{"p":"P","g":"H","k":"l","t":0,"s":1},{"p":"P","g":"H","k":"l","t":20,"s":0.64},{"p":"P","g":"H","k":"l","t":180,"s":0.6},

{"p":"Q","g":"L","k":"e","t":0,"s":1},{"p":"Q","g":"L","k":"e","t":10,"s":0.97},{"p":"Q","g":"L","k":"e","t":30,"s":0.93},{"p":"Q","g":"L","k":"e","t":60,"s":0.9},{"p":"Q","g":"L","k":"e","t":100,"s":0.88},{"p":"Q","g":"L","k":"e","t":150,"s":0.88},
{"p":"Q","g":"L","k":"u","t":0,"s":1},{"p":"Q","g":"L","k":"u","t":100,"s":0.98},{"p":"Q","g":"L","k":"u","t":150,"s":0.98},
{"p":"Q","g":"L","k":"l","t":0,"s":1},{"p":"Q","g":"L","k":"l","t":30,"s":0.85},{"p":"Q","g":"L","k":"l","t":100,"s":0.76},{"p":"Q","g":"L","k":"l","t":150,"s":0.76},
{"p":"Q","g":"H","k":"e","t":0,"s":1},{"p":"Q","g":"H","k":"e","t":10,"s":0.95},{"p":"Q","g":"H","k":"e","t":30,"s":0.9},{"p":"Q","g":"H","k":"e","t":60,"s":0.85},{"p":"Q","g":"H","k":"e","t":90,"s":0.78},{"p":"Q","g":"H","k":"e","t":120,"s":0.7},{"p":"Q","g":"H","k":"e","t":140,"s":0.7},
{"p":"Q","g":"H","k":"u","t":0,"s":1},{"p":"Q","g":"H","k":"u","t":30,"s":0.98},{"p":"Q","g":"H","k":"u","t":90,"s":0.92},{"p":"Q","g":"H","k":"u","t":140,"s":0.9},
{"p":"Q","g":"H","k":"l","t":0,"s":1},{"p":"Q","g":"H","k":"l","t":30,"s":0.8},{"p":"Q","g":"H","k":"l","t":90,"s":0.62},{"p":"Q","g":"H","k":"l","t":140,"s":0.5}
]
},
"resolve":{"scale":{"color":"independent"},"legend":{"color":"independent"}},
"spacing":11,
"vconcat":[
{"spacing":15,"resolve":{"scale":{"color":"independent"},"legend":{"color":"independent"}},"hconcat":[
{"title":{"text":"A","anchor":"start","fontSize":15,"offset":-16},"resolve":{"scale":{"color":"independent"},"legend":{"color":"independent"}},"vconcat":[{"title":{"text":"BRCA","subtitle":"Disease Free Survival"},"width":83,"height":81,"resolve":{"axis":{"x":"independent","y":"independent"}},"layer":[
{"data":{"name":"km"},"transform":[{"filter":"datum.p=='A'"}],"mark":"line","encoding":{"x":{"field":"t","type":"quantitative","scale":{"domain":[0,290],"nice":false},"axis":{"values":[0,50,100,150,200,250],"title":"Months"}},"y":{"field":"s","type":"quantitative","scale":{"domain":[0,1]},"axis":{"values":[0,0.2,0.4,0.6,0.8,1],"format":".1f","title":"Percent survival"}},"color":{"field":"g","type":"nominal","scale":{"domain":["L","H"],"range":["#4040ff","#ff4040"]},"legend":{"title":null,"orient":"none","legendX":37,"legendY":0,"labelExpr":"datum.label=='L'?'Low COL1A2 Group':'High COL1A2 Group'"}},"strokeDash":{"field":"k","type":"nominal","scale":{"domain":["e","u","l"],"range":[[1,0],[1,1],[1,1]]},"legend":null},"opacity":{"field":"k","type":"ordinal","scale":{"domain":["e","u","l"],"range":[1,0.4,0.4]},"legend":null},"strokeWidth":{"field":"k","type":"ordinal","scale":{"domain":["e","u","l"],"range":[0.9,0.6,0.6]},"legend":null}}},
{"data":{"name":"info"},"transform":[{"filter":"datum.p=='A'"}],"mark":{"type":"text","align":"right","baseline":"top","fontSize":3.6,"lineHeight":4.2,"lineBreak":"\n"},"encoding":{"x":{"datum":290,"type":"quantitative","axis":null},"y":{"datum":0.87,"type":"quantitative","axis":null},"text":{"field":"txt","type":"nominal"}}}]}]},
{"title":{"text":"B","anchor":"start","fontSize":15,"offset":-16},"resolve":{"scale":{"color":"independent"},"legend":{"color":"independent"}},"vconcat":[{"title":{"text":"CHOL","subtitle":"Disease Free Survival"},"width":83,"height":81,"resolve":{"axis":{"x":"independent","y":"independent"}},"layer":[
{"data":{"name":"km"},"transform":[{"filter":"datum.p=='B'"}],"mark":"line","encoding":{"x":{"field":"t","type":"quantitative","scale":{"domain":[0,68],"nice":false},"axis":{"values":[0,10,20,30,40,50,60],"title":"Months"}},"y":{"field":"s","type":"quantitative","scale":{"domain":[0,1]},"axis":{"values":[0,0.2,0.4,0.6,0.8,1],"format":".1f","title":"Percent survival"}},"color":{"field":"g","type":"nominal","scale":{"domain":["L","H"],"range":["#4040ff","#ff4040"]},"legend":{"title":null,"orient":"none","legendX":37,"legendY":0,"labelExpr":"datum.label=='L'?'Low COL1A2 Group':'High COL1A2 Group'"}},"strokeDash":{"field":"k","type":"nominal","scale":{"domain":["e","u","l"],"range":[[1,0],[1,1],[1,1]]},"legend":null},"opacity":{"field":"k","type":"ordinal","scale":{"domain":["e","u","l"],"range":[1,0.4,0.4]},"legend":null},"strokeWidth":{"field":"k","type":"ordinal","scale":{"domain":["e","u","l"],"range":[0.9,0.6,0.6]},"legend":null}}},
{"data":{"name":"info"},"transform":[{"filter":"datum.p=='B'"}],"mark":{"type":"text","align":"right","baseline":"top","fontSize":3.6,"lineHeight":4.2,"lineBreak":"\n"},"encoding":{"x":{"datum":68,"type":"quantitative","axis":null},"y":{"datum":0.87,"type":"quantitative","axis":null},"text":{"field":"txt","type":"nominal"}}}]}]},
{"title":{"text":"C","anchor":"start","fontSize":15,"offset":-16},"resolve":{"scale":{"color":"independent"},"legend":{"color":"independent"}},"vconcat":[{"title":{"text":"COAD","subtitle":"Disease Free Survival"},"width":83,"height":81,"resolve":{"axis":{"x":"independent","y":"independent"}},"layer":[
{"data":{"name":"km"},"transform":[{"filter":"datum.p=='C'"}],"mark":"line","encoding":{"x":{"field":"t","type":"quantitative","scale":{"domain":[0,152],"nice":false},"axis":{"values":[0,50,100,150],"title":"Months"}},"y":{"field":"s","type":"quantitative","scale":{"domain":[0,1]},"axis":{"values":[0,0.2,0.4,0.6,0.8,1],"format":".1f","title":"Percent survival"}},"color":{"field":"g","type":"nominal","scale":{"domain":["L","H"],"range":["#4040ff","#ff4040"]},"legend":{"title":null,"orient":"none","legendX":37,"legendY":0,"labelExpr":"datum.label=='L'?'Low COL1A2 Group':'High COL1A2 Group'"}},"strokeDash":{"field":"k","type":"nominal","scale":{"domain":["e","u","l"],"range":[[1,0],[1,1],[1,1]]},"legend":null},"opacity":{"field":"k","type":"ordinal","scale":{"domain":["e","u","l"],"range":[1,0.4,0.4]},"legend":null},"strokeWidth":{"field":"k","type":"ordinal","scale":{"domain":["e","u","l"],"range":[0.9,0.6,0.6]},"legend":null}}},
{"data":{"name":"info"},"transform":[{"filter":"datum.p=='C'"}],"mark":{"type":"text","align":"right","baseline":"top","fontSize":3.6,"lineHeight":4.2,"lineBreak":"\n"},"encoding":{"x":{"datum":152,"type":"quantitative","axis":null},"y":{"datum":0.87,"type":"quantitative","axis":null},"text":{"field":"txt","type":"nominal"}}}]}]},
{"title":{"text":"D","anchor":"start","fontSize":15,"offset":-16},"resolve":{"scale":{"color":"independent"},"legend":{"color":"independent"}},"vconcat":[{"title":{"text":"ESCA","subtitle":"Disease Free Survival"},"width":83,"height":81,"resolve":{"axis":{"x":"independent","y":"independent"}},"layer":[
{"data":{"name":"km"},"transform":[{"filter":"datum.p=='D'"}],"mark":"line","encoding":{"x":{"field":"t","type":"quantitative","scale":{"domain":[0,130],"nice":false},"axis":{"values":[0,20,40,60,80,100,120],"title":"Months"}},"y":{"field":"s","type":"quantitative","scale":{"domain":[0,1]},"axis":{"values":[0,0.2,0.4,0.6,0.8,1],"format":".1f","title":"Percent survival"}},"color":{"field":"g","type":"nominal","scale":{"domain":["L","H"],"range":["#4040ff","#ff4040"]},"legend":{"title":null,"orient":"none","legendX":37,"legendY":0,"labelExpr":"datum.label=='L'?'Low COL1A2 Group':'High COL1A2 Group'"}},"strokeDash":{"field":"k","type":"nominal","scale":{"domain":["e","u","l"],"range":[[1,0],[1,1],[1,1]]},"legend":null},"opacity":{"field":"k","type":"ordinal","scale":{"domain":["e","u","l"],"range":[1,0.4,0.4]},"legend":null},"strokeWidth":{"field":"k","type":"ordinal","scale":{"domain":["e","u","l"],"range":[0.9,0.6,0.6]},"legend":null}}},
{"data":{"name":"info"},"transform":[{"filter":"datum.p=='D'"}],"mark":{"type":"text","align":"right","baseline":"top","fontSize":3.6,"lineHeight":4.2,"lineBreak":"\n"},"encoding":{"x":{"datum":130,"type":"quantitative","axis":null},"y":{"datum":0.87,"type":"quantitative","axis":null},"text":{"field":"txt","type":"nominal"}}}]}]},
{"title":{"text":"E","anchor":"start","fontSize":15,"offset":-16},"resolve":{"scale":{"color":"independent"},"legend":{"color":"independent"}},"vconcat":[{"title":{"text":"HNSC","subtitle":"Disease Free Survival"},"width":83,"height":81,"resolve":{"axis":{"x":"independent","y":"independent"}},"layer":[
{"data":{"name":"km"},"transform":[{"filter":"datum.p=='E'"}],"mark":"line","encoding":{"x":{"field":"t","type":"quantitative","scale":{"domain":[0,225],"nice":false},"axis":{"values":[0,50,100,150,200],"title":"Months"}},"y":{"field":"s","type":"quantitative","scale":{"domain":[0,1]},"axis":{"values":[0,0.2,0.4,0.6,0.8,1],"format":".1f","title":"Percent survival"}},"color":{"field":"g","type":"nominal","scale":{"domain":["L","H"],"range":["#4040ff","#ff4040"]},"legend":{"title":null,"orient":"none","legendX":37,"legendY":0,"labelExpr":"datum.label=='L'?'Low COL1A2 Group':'High COL1A2 Group'"}},"strokeDash":{"field":"k","type":"nominal","scale":{"domain":["e","u","l"],"range":[[1,0],[1,1],[1,1]]},"legend":null},"opacity":{"field":"k","type":"ordinal","scale":{"domain":["e","u","l"],"range":[1,0.4,0.4]},"legend":null},"strokeWidth":{"field":"k","type":"ordinal","scale":{"domain":["e","u","l"],"range":[0.9,0.6,0.6]},"legend":null}}},
{"data":{"name":"info"},"transform":[{"filter":"datum.p=='E'"}],"mark":{"type":"text","align":"right","baseline":"top","fontSize":3.6,"lineHeight":4.2,"lineBreak":"\n"},"encoding":{"x":{"datum":225,"type":"quantitative","axis":null},"y":{"datum":0.87,"type":"quantitative","axis":null},"text":{"field":"txt","type":"nominal"}}}]}]},
{"title":{"text":"F","anchor":"start","fontSize":15,"offset":-16},"resolve":{"scale":{"color":"independent"},"legend":{"color":"independent"}},"vconcat":[{"title":{"text":"DLBC","subtitle":"Disease Free Survival"},"width":82,"height":81,"resolve":{"axis":{"x":"independent","y":"independent"}},"layer":[
{"data":{"name":"km"},"transform":[{"filter":"datum.p=='F'"}],"mark":"line","encoding":{"x":{"field":"t","type":"quantitative","scale":{"domain":[0,218],"nice":false},"axis":{"values":[0,50,100,150,200],"title":"Months"}},"y":{"field":"s","type":"quantitative","scale":{"domain":[0,1]},"axis":{"values":[0,0.2,0.4,0.6,0.8,1],"format":".1f","title":"Percent survival"}},"color":{"field":"g","type":"nominal","scale":{"domain":["L","H"],"range":["#4040ff","#ff4040"]},"legend":{"title":null,"orient":"none","legendX":36,"legendY":0,"labelExpr":"datum.label=='L'?'Low COL1A2 Group':'High COL1A2 Group'"}},"strokeDash":{"field":"k","type":"nominal","scale":{"domain":["e","u","l"],"range":[[1,0],[1,1],[1,1]]},"legend":null},"opacity":{"field":"k","type":"ordinal","scale":{"domain":["e","u","l"],"range":[1,0.4,0.4]},"legend":null},"strokeWidth":{"field":"k","type":"ordinal","scale":{"domain":["e","u","l"],"range":[0.9,0.6,0.6]},"legend":null}}},
{"data":{"name":"info"},"transform":[{"filter":"datum.p=='F'"}],"mark":{"type":"text","align":"right","baseline":"top","fontSize":3.6,"lineHeight":4.2,"lineBreak":"\n"},"encoding":{"x":{"datum":218,"type":"quantitative","axis":null},"y":{"datum":0.87,"type":"quantitative","axis":null},"text":{"field":"txt","type":"nominal"}}}]}]}
]},
{"spacing":5,"resolve":{"scale":{"color":"independent"},"legend":{"color":"independent"}},"vconcat":[
{"spacing":15,"resolve":{"scale":{"color":"independent"},"legend":{"color":"independent"}},"hconcat":[
{"title":{"text":"G","anchor":"start","fontSize":14,"offset":-11},"resolve":{"scale":{"color":"independent"},"legend":{"color":"independent"}},"vconcat":[{"title":{"text":"GBM","subtitle":"Disease Free Survival","fontSize":6,"subtitleFontSize":5.5,"offset":1.5},"width":83,"height":76,"resolve":{"axis":{"x":"independent","y":"independent"}},"layer":[
{"data":{"name":"km"},"transform":[{"filter":"datum.p=='G'"}],"mark":"line","encoding":{"x":{"field":"t","type":"quantitative","scale":{"domain":[0,53],"nice":false},"axis":{"values":[0,10,20,30,40,50],"title":"Months"}},"y":{"field":"s","type":"quantitative","scale":{"domain":[0,1]},"axis":{"values":[0,0.2,0.4,0.6,0.8,1],"format":".1f","title":"Percent survival"}},"color":{"field":"g","type":"nominal","scale":{"domain":["L","H"],"range":["#4040ff","#ff4040"]},"legend":{"title":null,"orient":"none","legendX":37,"legendY":0,"labelExpr":"datum.label=='L'?'Low COL1A2 Group':'High COL1A2 Group'"}},"strokeDash":{"field":"k","type":"nominal","scale":{"domain":["e","u","l"],"range":[[1,0],[1,1],[1,1]]},"legend":null},"opacity":{"field":"k","type":"ordinal","scale":{"domain":["e","u","l"],"range":[1,0.4,0.4]},"legend":null},"strokeWidth":{"field":"k","type":"ordinal","scale":{"domain":["e","u","l"],"range":[0.9,0.6,0.6]},"legend":null}}},
{"data":{"name":"info"},"transform":[{"filter":"datum.p=='G'"}],"mark":{"type":"text","align":"right","baseline":"top","fontSize":3.6,"lineHeight":4.2,"lineBreak":"\n"},"encoding":{"x":{"datum":53,"type":"quantitative","axis":null},"y":{"datum":0.86,"type":"quantitative","axis":null},"text":{"field":"txt","type":"nominal"}}}]}]},
{"title":{"text":"H","anchor":"start","fontSize":14,"offset":-11},"resolve":{"scale":{"color":"independent"},"legend":{"color":"independent"}},"vconcat":[{"title":{"text":"KIRC","subtitle":"Disease Free Survival","fontSize":6,"subtitleFontSize":5.5,"offset":1.5},"width":83,"height":76,"resolve":{"axis":{"x":"independent","y":"independent"}},"layer":[
{"data":{"name":"km"},"transform":[{"filter":"datum.p=='H'"}],"mark":"line","encoding":{"x":{"field":"t","type":"quantitative","scale":{"domain":[0,142],"nice":false},"axis":{"values":[0,20,40,60,80,100,120,140],"title":"Months"}},"y":{"field":"s","type":"quantitative","scale":{"domain":[0,1]},"axis":{"values":[0,0.2,0.4,0.6,0.8,1],"format":".1f","title":"Percent survival"}},"color":{"field":"g","type":"nominal","scale":{"domain":["L","H"],"range":["#4040ff","#ff4040"]},"legend":{"title":null,"orient":"none","legendX":37,"legendY":0,"labelExpr":"datum.label=='L'?'Low COL1A2 Group':'High COL1A2 Group'"}},"strokeDash":{"field":"k","type":"nominal","scale":{"domain":["e","u","l"],"range":[[1,0],[1,1],[1,1]]},"legend":null},"opacity":{"field":"k","type":"ordinal","scale":{"domain":["e","u","l"],"range":[1,0.4,0.4]},"legend":null},"strokeWidth":{"field":"k","type":"ordinal","scale":{"domain":["e","u","l"],"range":[0.9,0.6,0.6]},"legend":null}}},
{"data":{"name":"info"},"transform":[{"filter":"datum.p=='H'"}],"mark":{"type":"text","align":"right","baseline":"top","fontSize":3.6,"lineHeight":4.2,"lineBreak":"\n"},"encoding":{"x":{"datum":142,"type":"quantitative","axis":null},"y":{"datum":0.86,"type":"quantitative","axis":null},"text":{"field":"txt","type":"nominal"}}}]}]},
{"title":{"text":"I","anchor":"start","fontSize":14,"offset":-11},"resolve":{"scale":{"color":"independent"},"legend":{"color":"independent"}},"vconcat":[{"title":{"text":"LIHC","subtitle":"Disease Free Survival","fontSize":6,"subtitleFontSize":5.5,"offset":1.5},"width":83,"height":76,"resolve":{"axis":{"x":"independent","y":"independent"}},"layer":[
{"data":{"name":"km"},"transform":[{"filter":"datum.p=='I'"}],"mark":"line","encoding":{"x":{"field":"t","type":"quantitative","scale":{"domain":[0,125],"nice":false},"axis":{"values":[0,20,40,60,80,100,120],"title":"Months"}},"y":{"field":"s","type":"quantitative","scale":{"domain":[0,1]},"axis":{"values":[0,0.2,0.4,0.6,0.8,1],"format":".1f","title":"Percent survival"}},"color":{"field":"g","type":"nominal","scale":{"domain":["L","H"],"range":["#4040ff","#ff4040"]},"legend":{"title":null,"orient":"none","legendX":37,"legendY":0,"labelExpr":"datum.label=='L'?'Low COL1A2 Group':'High COL1A2 Group'"}},"strokeDash":{"field":"k","type":"nominal","scale":{"domain":["e","u","l"],"range":[[1,0],[1,1],[1,1]]},"legend":null},"opacity":{"field":"k","type":"ordinal","scale":{"domain":["e","u","l"],"range":[1,0.4,0.4]},"legend":null},"strokeWidth":{"field":"k","type":"ordinal","scale":{"domain":["e","u","l"],"range":[0.9,0.6,0.6]},"legend":null}}},
{"data":{"name":"info"},"transform":[{"filter":"datum.p=='I'"}],"mark":{"type":"text","align":"right","baseline":"top","fontSize":3.6,"lineHeight":4.2,"lineBreak":"\n"},"encoding":{"x":{"datum":125,"type":"quantitative","axis":null},"y":{"datum":0.86,"type":"quantitative","axis":null},"text":{"field":"txt","type":"nominal"}}}]}]},
{"title":{"text":"J","anchor":"start","fontSize":14,"offset":-11},"resolve":{"scale":{"color":"independent"},"legend":{"color":"independent"}},"vconcat":[{"title":{"text":"LUSC","subtitle":"Disease Free Survival","fontSize":6,"subtitleFontSize":5.5,"offset":1.5},"width":83,"height":76,"resolve":{"axis":{"x":"independent","y":"independent"}},"layer":[
{"data":{"name":"km"},"transform":[{"filter":"datum.p=='J'"}],"mark":"line","encoding":{"x":{"field":"t","type":"quantitative","scale":{"domain":[0,175],"nice":false},"axis":{"values":[0,50,100,150],"title":"Months"}},"y":{"field":"s","type":"quantitative","scale":{"domain":[0,1]},"axis":{"values":[0,0.2,0.4,0.6,0.8,1],"format":".1f","title":"Percent survival"}},"color":{"field":"g","type":"nominal","scale":{"domain":["L","H"],"range":["#4040ff","#ff4040"]},"legend":{"title":null,"orient":"none","legendX":37,"legendY":0,"labelExpr":"datum.label=='L'?'Low COL1A2 Group':'High COL1A2 Group'"}},"strokeDash":{"field":"k","type":"nominal","scale":{"domain":["e","u","l"],"range":[[1,0],[1,1],[1,1]]},"legend":null},"opacity":{"field":"k","type":"ordinal","scale":{"domain":["e","u","l"],"range":[1,0.4,0.4]},"legend":null},"strokeWidth":{"field":"k","type":"ordinal","scale":{"domain":["e","u","l"],"range":[0.9,0.6,0.6]},"legend":null}}},
{"data":{"name":"info"},"transform":[{"filter":"datum.p=='J'"}],"mark":{"type":"text","align":"right","baseline":"top","fontSize":3.6,"lineHeight":4.2,"lineBreak":"\n"},"encoding":{"x":{"datum":175,"type":"quantitative","axis":null},"y":{"datum":0.86,"type":"quantitative","axis":null},"text":{"field":"txt","type":"nominal"}}}]}]},
{"title":{"text":"K","anchor":"start","fontSize":14,"offset":-11},"resolve":{"scale":{"color":"independent"},"legend":{"color":"independent"}},"vconcat":[{"title":{"text":"LGG","subtitle":"Disease Free Survival","fontSize":6,"subtitleFontSize":5.5,"offset":1.5},"width":83,"height":76,"resolve":{"axis":{"x":"independent","y":"independent"}},"layer":[
{"data":{"name":"km"},"transform":[{"filter":"datum.p=='K'"}],"mark":"line","encoding":{"x":{"field":"t","type":"quantitative","scale":{"domain":[0,180],"nice":false},"axis":{"values":[0,50,100,150],"title":"Months"}},"y":{"field":"s","type":"quantitative","scale":{"domain":[0,1]},"axis":{"values":[0,0.2,0.4,0.6,0.8,1],"format":".1f","title":"Percent survival"}},"color":{"field":"g","type":"nominal","scale":{"domain":["L","H"],"range":["#4040ff","#ff4040"]},"legend":{"title":null,"orient":"none","legendX":37,"legendY":0,"labelExpr":"datum.label=='L'?'Low COL1A2 Group':'High COL1A2 Group'"}},"strokeDash":{"field":"k","type":"nominal","scale":{"domain":["e","u","l"],"range":[[1,0],[1,1],[1,1]]},"legend":null},"opacity":{"field":"k","type":"ordinal","scale":{"domain":["e","u","l"],"range":[1,0.4,0.4]},"legend":null},"strokeWidth":{"field":"k","type":"ordinal","scale":{"domain":["e","u","l"],"range":[0.9,0.6,0.6]},"legend":null}}},
{"data":{"name":"info"},"transform":[{"filter":"datum.p=='K'"}],"mark":{"type":"text","align":"right","baseline":"top","fontSize":3.6,"lineHeight":4.2,"lineBreak":"\n"},"encoding":{"x":{"datum":180,"type":"quantitative","axis":null},"y":{"datum":0.86,"type":"quantitative","axis":null},"text":{"field":"txt","type":"nominal"}}}]}]},
{"title":{"text":"L","anchor":"start","fontSize":14,"offset":-11},"resolve":{"scale":{"color":"independent"},"legend":{"color":"independent"}},"vconcat":[{"title":{"text":"PAAD","subtitle":"Disease Free Survival","fontSize":6,"subtitleFontSize":5.5,"offset":1.5},"width":82,"height":76,"resolve":{"axis":{"x":"independent","y":"independent"}},"layer":[
{"data":{"name":"km"},"transform":[{"filter":"datum.p=='L'"}],"mark":"line","encoding":{"x":{"field":"t","type":"quantitative","scale":{"domain":[0,92],"nice":false},"axis":{"values":[0,20,40,60,80],"title":"Months"}},"y":{"field":"s","type":"quantitative","scale":{"domain":[0,1]},"axis":{"values":[0,0.2,0.4,0.6,0.8,1],"format":".1f","title":"Percent survival"}},"color":{"field":"g","type":"nominal","scale":{"domain":["L","H"],"range":["#4040ff","#ff4040"]},"legend":{"title":null,"orient":"none","legendX":36,"legendY":0,"labelExpr":"datum.label=='L'?'Low COL1A2 Group':'High COL1A2 Group'"}},"strokeDash":{"field":"k","type":"nominal","scale":{"domain":["e","u","l"],"range":[[1,0],[1,1],[1,1]]},"legend":null},"opacity":{"field":"k","type":"ordinal","scale":{"domain":["e","u","l"],"range":[1,0.4,0.4]},"legend":null},"strokeWidth":{"field":"k","type":"ordinal","scale":{"domain":["e","u","l"],"range":[0.9,0.6,0.6]},"legend":null}}},
{"data":{"name":"info"},"transform":[{"filter":"datum.p=='L'"}],"mark":{"type":"text","align":"right","baseline":"top","fontSize":3.6,"lineHeight":4.2,"lineBreak":"\n"},"encoding":{"x":{"datum":92,"type":"quantitative","axis":null},"y":{"datum":0.86,"type":"quantitative","axis":null},"text":{"field":"txt","type":"nominal"}}}]}]}
]},
{"spacing":15,"resolve":{"scale":{"color":"independent"},"legend":{"color":"independent"}},"hconcat":[
{"title":{"text":"M","anchor":"start","fontSize":14,"offset":-11},"resolve":{"scale":{"color":"independent"},"legend":{"color":"independent"}},"vconcat":[{"title":{"text":"READ","subtitle":"Disease Free Survival","fontSize":6,"subtitleFontSize":5.5,"offset":1.5},"width":83,"height":76,"resolve":{"axis":{"x":"independent","y":"independent"}},"layer":[
{"data":{"name":"km"},"transform":[{"filter":"datum.p=='M'"}],"mark":"line","encoding":{"x":{"field":"t","type":"quantitative","scale":{"domain":[0,110],"nice":false},"axis":{"values":[0,20,40,60,80,100],"title":"Months"}},"y":{"field":"s","type":"quantitative","scale":{"domain":[0,1]},"axis":{"values":[0,0.2,0.4,0.6,0.8,1],"format":".1f","title":"Percent survival"}},"color":{"field":"g","type":"nominal","scale":{"domain":["L","H"],"range":["#4040ff","#ff4040"]},"legend":{"title":null,"orient":"none","legendX":37,"legendY":0,"labelExpr":"datum.label=='L'?'Low COL1A2 Group':'High COL1A2 Group'"}},"strokeDash":{"field":"k","type":"nominal","scale":{"domain":["e","u","l"],"range":[[1,0],[1,1],[1,1]]},"legend":null},"opacity":{"field":"k","type":"ordinal","scale":{"domain":["e","u","l"],"range":[1,0.4,0.4]},"legend":null},"strokeWidth":{"field":"k","type":"ordinal","scale":{"domain":["e","u","l"],"range":[0.9,0.6,0.6]},"legend":null}}},
{"data":{"name":"info"},"transform":[{"filter":"datum.p=='M'"}],"mark":{"type":"text","align":"right","baseline":"top","fontSize":3.6,"lineHeight":4.2,"lineBreak":"\n"},"encoding":{"x":{"datum":110,"type":"quantitative","axis":null},"y":{"datum":0.86,"type":"quantitative","axis":null},"text":{"field":"txt","type":"nominal"}}}]}]},
{"title":{"text":"N","anchor":"start","fontSize":14,"offset":-11},"resolve":{"scale":{"color":"independent"},"legend":{"color":"independent"}},"vconcat":[{"title":{"text":"STAD","subtitle":"Disease Free Survival","fontSize":6,"subtitleFontSize":5.5,"offset":1.5},"width":83,"height":76,"resolve":{"axis":{"x":"independent","y":"independent"}},"layer":[
{"data":{"name":"km"},"transform":[{"filter":"datum.p=='N'"}],"mark":"line","encoding":{"x":{"field":"t","type":"quantitative","scale":{"domain":[0,130],"nice":false},"axis":{"values":[0,20,40,60,80,100,120],"title":"Months"}},"y":{"field":"s","type":"quantitative","scale":{"domain":[0,1]},"axis":{"values":[0,0.2,0.4,0.6,0.8,1],"format":".1f","title":"Percent survival"}},"color":{"field":"g","type":"nominal","scale":{"domain":["L","H"],"range":["#4040ff","#ff4040"]},"legend":{"title":null,"orient":"none","legendX":37,"legendY":0,"labelExpr":"datum.label=='L'?'Low COL1A2 Group':'High COL1A2 Group'"}},"strokeDash":{"field":"k","type":"nominal","scale":{"domain":["e","u","l"],"range":[[1,0],[1,1],[1,1]]},"legend":null},"opacity":{"field":"k","type":"ordinal","scale":{"domain":["e","u","l"],"range":[1,0.4,0.4]},"legend":null},"strokeWidth":{"field":"k","type":"ordinal","scale":{"domain":["e","u","l"],"range":[0.9,0.6,0.6]},"legend":null}}},
{"data":{"name":"info"},"transform":[{"filter":"datum.p=='N'"}],"mark":{"type":"text","align":"right","baseline":"top","fontSize":3.6,"lineHeight":4.2,"lineBreak":"\n"},"encoding":{"x":{"datum":130,"type":"quantitative","axis":null},"y":{"datum":0.86,"type":"quantitative","axis":null},"text":{"field":"txt","type":"nominal"}}}]}]},
{"title":{"text":"O","anchor":"start","fontSize":14,"offset":-11},"resolve":{"scale":{"color":"independent"},"legend":{"color":"independent"}},"vconcat":[{"title":{"text":"SARC","subtitle":"Disease Free Survival","fontSize":6,"subtitleFontSize":5.5,"offset":1.5},"width":83,"height":76,"resolve":{"axis":{"x":"independent","y":"independent"}},"layer":[
{"data":{"name":"km"},"transform":[{"filter":"datum.p=='O'"}],"mark":"line","encoding":{"x":{"field":"t","type":"quantitative","scale":{"domain":[0,230],"nice":false},"axis":{"values":[0,50,100,150,200],"title":"Months"}},"y":{"field":"s","type":"quantitative","scale":{"domain":[0,1]},"axis":{"values":[0,0.2,0.4,0.6,0.8,1],"format":".1f","title":"Percent survival"}},"color":{"field":"g","type":"nominal","scale":{"domain":["L","H"],"range":["#4040ff","#ff4040"]},"legend":{"title":null,"orient":"none","legendX":37,"legendY":0,"labelExpr":"datum.label=='L'?'Low COL1A2 Group':'High COL1A2 Group'"}},"strokeDash":{"field":"k","type":"nominal","scale":{"domain":["e","u","l"],"range":[[1,0],[1,1],[1,1]]},"legend":null},"opacity":{"field":"k","type":"ordinal","scale":{"domain":["e","u","l"],"range":[1,0.4,0.4]},"legend":null},"strokeWidth":{"field":"k","type":"ordinal","scale":{"domain":["e","u","l"],"range":[0.9,0.6,0.6]},"legend":null}}},
{"data":{"name":"info"},"transform":[{"filter":"datum.p=='O'"}],"mark":{"type":"text","align":"right","baseline":"top","fontSize":3.6,"lineHeight":4.2,"lineBreak":"\n"},"encoding":{"x":{"datum":230,"type":"quantitative","axis":null},"y":{"datum":0.86,"type":"quantitative","axis":null},"text":{"field":"txt","type":"nominal"}}}]}]},
{"title":{"text":"P","anchor":"start","fontSize":14,"offset":-11},"resolve":{"scale":{"color":"independent"},"legend":{"color":"independent"}},"vconcat":[{"title":{"text":"TGCT","subtitle":"Disease Free Survival","fontSize":6,"subtitleFontSize":5.5,"offset":1.5},"width":83,"height":76,"resolve":{"axis":{"x":"independent","y":"independent"}},"layer":[
{"data":{"name":"km"},"transform":[{"filter":"datum.p=='P'"}],"mark":"line","encoding":{"x":{"field":"t","type":"quantitative","scale":{"domain":[0,210],"nice":false},"axis":{"values":[0,50,100,150,200],"title":"Months"}},"y":{"field":"s","type":"quantitative","scale":{"domain":[0,1]},"axis":{"values":[0,0.2,0.4,0.6,0.8,1],"format":".1f","title":"Percent survival"}},"color":{"field":"g","type":"nominal","scale":{"domain":["L","H"],"range":["#4040ff","#ff4040"]},"legend":{"title":null,"orient":"none","legendX":37,"legendY":0,"labelExpr":"datum.label=='L'?'Low COL1A2 Group':'High COL1A2 Group'"}},"strokeDash":{"field":"k","type":"nominal","scale":{"domain":["e","u","l"],"range":[[1,0],[1,1],[1,1]]},"legend":null},"opacity":{"field":"k","type":"ordinal","scale":{"domain":["e","u","l"],"range":[1,0.4,0.4]},"legend":null},"strokeWidth":{"field":"k","type":"ordinal","scale":{"domain":["e","u","l"],"range":[0.9,0.6,0.6]},"legend":null}}},
{"data":{"name":"info"},"transform":[{"filter":"datum.p=='P'"}],"mark":{"type":"text","align":"right","baseline":"top","fontSize":3.6,"lineHeight":4.2,"lineBreak":"\n"},"encoding":{"x":{"datum":210,"type":"quantitative","axis":null},"y":{"datum":0.86,"type":"quantitative","axis":null},"text":{"field":"txt","type":"nominal"}}}]}]},
{"title":{"text":"Q","anchor":"start","fontSize":14,"offset":-11},"resolve":{"scale":{"color":"independent"},"legend":{"color":"independent"}},"vconcat":[{"title":{"text":"THYM","subtitle":"Disease Free Survival","fontSize":6,"subtitleFontSize":5.5,"offset":1.5},"width":83,"height":76,"resolve":{"axis":{"x":"independent","y":"independent"}},"layer":[
{"data":{"name":"km"},"transform":[{"filter":"datum.p=='Q'"}],"mark":"line","encoding":{"x":{"field":"t","type":"quantitative","scale":{"domain":[0,160],"nice":false},"axis":{"values":[0,50,100,150],"title":"Months"}},"y":{"field":"s","type":"quantitative","scale":{"domain":[0,1]},"axis":{"values":[0,0.2,0.4,0.6,0.8,1],"format":".1f","title":"Percent survival"}},"color":{"field":"g","type":"nominal","scale":{"domain":["L","H"],"range":["#4040ff","#ff4040"]},"legend":{"title":null,"orient":"none","legendX":37,"legendY":0,"labelExpr":"datum.label=='L'?'Low COL1A2 Group':'High COL1A2 Group'"}},"strokeDash":{"field":"k","type":"nominal","scale":{"domain":["e","u","l"],"range":[[1,0],[1,1],[1,1]]},"legend":null},"opacity":{"field":"k","type":"ordinal","scale":{"domain":["e","u","l"],"range":[1,0.4,0.4]},"legend":null},"strokeWidth":{"field":"k","type":"ordinal","scale":{"domain":["e","u","l"],"range":[0.9,0.6,0.6]},"legend":null}}},
{"data":{"name":"info"},"transform":[{"filter":"datum.p=='Q'"}],"mark":{"type":"text","align":"right","baseline":"top","fontSize":3.6,"lineHeight":4.2,"lineBreak":"\n"},"encoding":{"x":{"datum":160,"type":"quantitative","axis":null},"y":{"datum":0.86,"type":"quantitative","axis":null},"text":{"field":"txt","type":"nominal"}}}]}]}
]}
]}
]
}
